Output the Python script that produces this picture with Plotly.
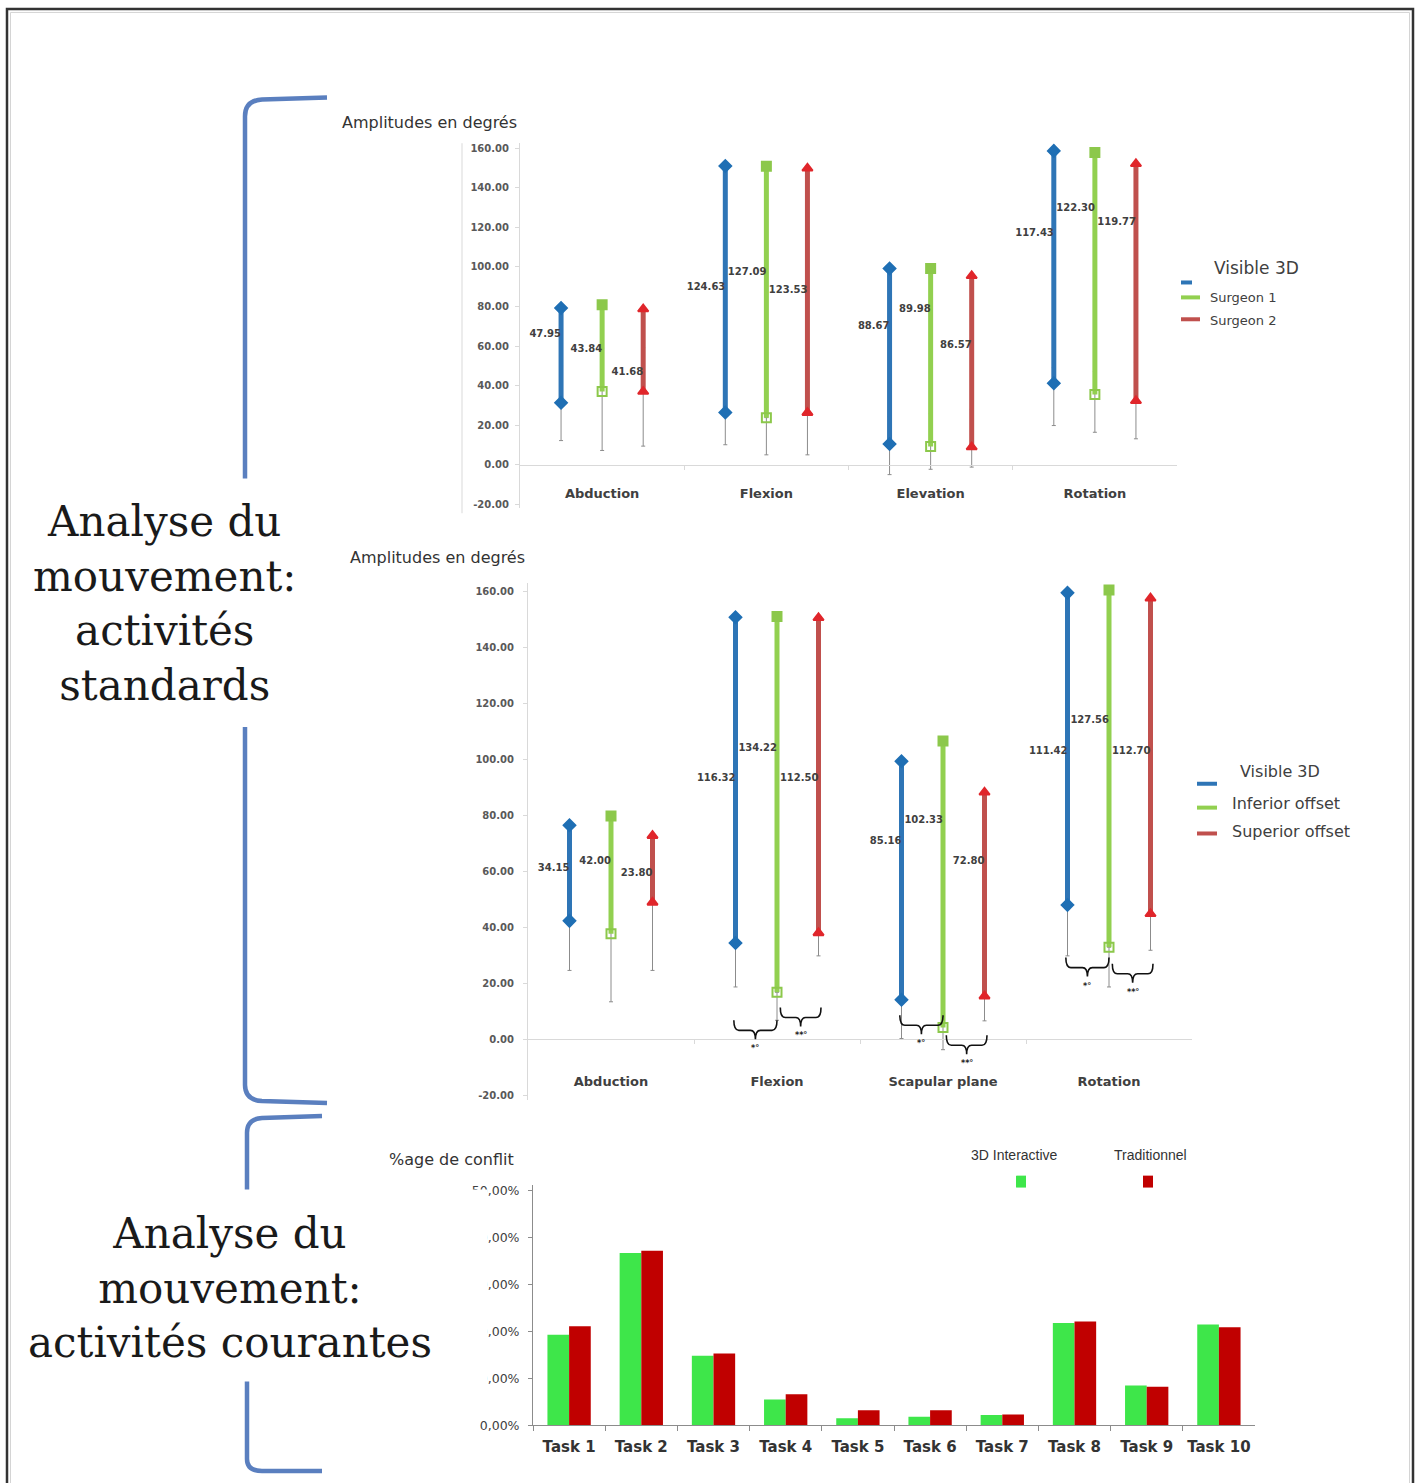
import plotly.graph_objects as go

W, H = 1419, 1483


def pxx(x):
    return x / W


def pyy(y):
    return 1 - y / H


# ---------------- data: panel 1 (Visible 3D vs surgeons) ----------------
MOVES_1 = ["Abduction", "Flexion", "Elevation", "Rotation"]
SERIES_1 = ["Visible 3D", "Surgeon 1", "Surgeon 2"]
LOW_1 = {
    "Visible 3D": [31.3, 26.4, 10.5, 41.2],
    "Surgeon 1": [37.0, 23.8, 9.2, 35.5],
    "Surgeon 2": [37.0, 26.3, 8.9, 32.3],
}
AMP_1 = {
    "Visible 3D": [47.95, 124.63, 88.67, 117.43],
    "Surgeon 1": [43.84, 127.09, 89.98, 122.30],
    "Surgeon 2": [41.68, 123.53, 86.57, 119.77],
}
WLO_1 = {
    "Visible 3D": [12.2, 10.1, -5.0, 19.8],
    "Surgeon 1": [7.2, 5.0, -2.3, 16.4],
    "Surgeon 2": [9.4, 5.0, -1.2, 13.1],
}
WHI_1 = {
    "Visible 3D": [97.8, None, 112.9, 166.5],
    "Surgeon 1": [102.8, None, 115.7, 169.4],
    "Surgeon 2": [100.8, None, 114.6, 171.6],
}

# ---------------- data: panel 2 (Visible 3D vs offsets) ----------------
MOVES_2 = ["Abduction", "Flexion", "Scapular plane", "Rotation"]
SERIES_2 = ["Visible 3D", "Inferior offset", "Superior offset"]
LOW_2 = {
    "Visible 3D": [42.3, 34.4, 14.1, 48.0],
    "Inferior offset": [37.7, 16.8, 4.2, 32.9],
    "Superior offset": [48.9, 38.0, 15.4, 44.8],
}
AMP_2 = {
    "Visible 3D": [34.15, 116.32, 85.16, 111.42],
    "Inferior offset": [42.00, 134.22, 102.33, 127.56],
    "Superior offset": [23.80, 112.50, 72.80, 112.70],
}
WLO_2 = {
    "Visible 3D": [24.6, 18.7, 0.3, 29.8],
    "Inferior offset": [13.4, 6.8, -3.7, 18.7],
    "Superior offset": [24.6, 29.8, 6.6, 31.8],
}
WHI_2 = {
    "Visible 3D": [96.9, None, 113.3, 165.5],
    "Inferior offset": [97.8, None, 121.2, None],
    "Superior offset": [93.0, None, 104.8, 166.2],
}
# significance braces: (movement index, left series, right series, mark)
SIGNIF_2 = [
    (1, 0, 1, "*°"),
    (1, 1, 2, "**°"),
    (2, 0, 1, "*°"),
    (2, 1, 2, "**°"),
    (3, 0, 1, "*°"),
    (3, 1, 2, "**°"),
]

# ---------------- data: panel 3 (conflict rate per task) ----------------
TASKS = ["Task 1", "Task 2", "Task 3", "Task 4", "Task 5",
         "Task 6", "Task 7", "Task 8", "Task 9", "Task 10"]
CONFLICT_3D = [19.3, 36.7, 14.8, 5.5, 1.5, 1.8, 2.2, 21.8, 8.5, 21.5]
CONFLICT_TRAD = [21.1, 37.2, 15.3, 6.6, 3.2, 3.2, 2.3, 22.1, 8.2, 20.9]
PCT_TICKS = [0, 10, 20, 30, 40, 50]
DEG_TICKS = [-20, 0, 20, 40, 60, 80, 100, 120, 140, 160]

# ---------------- styling / placement ----------------
OFFSETS = [-0.25, 0.0, 0.25]
LINE_COLORS = ["#2e75b6", "#92d050", "#c0504d"]
MARK_COLORS = ["#1f6fb4", "#8cc84b", "#e0262b"]
SYMBOLS = [("diamond", "diamond"), ("square", "square-open"),
           ("triangle-up", "triangle-up")]
# vertical placement (value units) of the amplitude labels
LABEL_Y_1 = [[66, 89.7, 70.1, 117], [58.4, 97.3, 78.5, 129.7],
             [46.8, 88, 60.4, 122.4]]
LABEL_Y_2 = [[61, 93.3, 70.6, 102.8], [63.6, 103.9, 78.1, 114],
             [59.2, 93.3, 63.4, 102.8]]
BRACE_BASE_2 = [3.2, 7.8, 5.0, -2.1, 25.6, 23.4]

AXIS_GREY = "#d9d9d9"
TICK_FONT = dict(family="DejaVu Sans", size=10, color="#595959", weight="bold")
CAT_FONT = dict(family="DejaVu Sans", size=13, color="#404040", weight="bold")
LABEL_FONT = dict(family="DejaVu Sans", size=10, color="#404040", weight="bold")

fig = go.Figure()


def add_range_panel(series, low, amp, wlo, whi, label_y, xa, ya):
    for si, name in enumerate(series):
        xs = [c + OFFSETS[si] for c in range(len(low[name]))]
        highs = [lo + a for lo, a in zip(low[name], amp[name])]
        up = [(w - h) if w is not None else 0 for w, h in zip(whi[name], highs)]
        dn = [(lo - w) if w is not None else 0 for w, lo in zip(wlo[name], low[name])]
        # min/max whiskers
        fig.add_trace(go.Scatter(
            x=xs, y=low[name], mode="markers",
            marker=dict(size=1, color="rgba(0,0,0,0)"),
            error_y=dict(type="data", symmetric=False, array=up, arrayminus=dn,
                         color="#8c8c8c", thickness=1, width=2),
            xaxis=xa, yaxis=ya, hoverinfo="skip", showlegend=False))
        # low-high range
        lx, ly, sym = [], [], []
        for x, h, lo in zip(xs, highs, low[name]):
            lx += [x, x, None]
            ly += [h, lo, None]
            sym += [SYMBOLS[si][0], SYMBOLS[si][1], SYMBOLS[si][0]]
        fig.add_trace(go.Scatter(
            x=lx, y=ly, mode="lines+markers", name=name,
            line=dict(color=LINE_COLORS[si], width=5),
            marker=dict(symbol=sym, size=9, color=MARK_COLORS[si],
                        line=dict(color=MARK_COLORS[si], width=2)),
            xaxis=xa, yaxis=ya, showlegend=False))
        # amplitude labels
        fig.add_trace(go.Scatter(
            x=xs, y=label_y[si], mode="text",
            text=[f"{a:.2f}" for a in amp[name]],
            textposition="middle left", textfont=LABEL_FONT,
            xaxis=xa, yaxis=ya, hoverinfo="skip", showlegend=False))


add_range_panel(SERIES_1, LOW_1, AMP_1, WLO_1, WHI_1, LABEL_Y_1, "x", "y")
add_range_panel(SERIES_2, LOW_2, AMP_2, WLO_2, WHI_2, LABEL_Y_2, "x2", "y2")

# bar panel
fig.add_trace(go.Bar(x=TASKS, y=CONFLICT_3D, name="3D Interactive",
                     marker=dict(color="#3ee64a", line=dict(width=0)),
                     xaxis="x3", yaxis="y3", showlegend=False))
fig.add_trace(go.Bar(x=TASKS, y=CONFLICT_TRAD, name="Traditionnel",
                     marker=dict(color="#c00000", line=dict(width=0)),
                     xaxis="x3", yaxis="y3", showlegend=False))


def zero_pos(dom, rng):
    return dom[0] + (0 - rng[0]) / (rng[1] - rng[0]) * (dom[1] - dom[0])


Y1_DOM, Y1_RNG = [pyy(510), pyy(143)], [-22, 162.5]
Y2_DOM, Y2_RNG = [pyy(1104.5), pyy(585)], [-21.5, 163]
Y3_DOM, Y3_RNG = [pyy(1432), pyy(1190)], [0, 51.3]


def cat_axis(dom, cats, ypos, standoff):
    return dict(
        domain=dom, range=[-0.5, len(cats) - 0.5], anchor="free", position=ypos,
        tickmode="array", tickvals=list(range(len(cats))), ticktext=cats,
        ticks="", tickfont=CAT_FONT, ticklabelstandoff=standoff,
        showline=True, linecolor=AXIS_GREY, linewidth=1,
        showgrid=False, zeroline=False,
        minor=dict(tickmode="array", tickvals=[i + 0.5 for i in range(len(cats) - 1)],
                   ticks="outside", ticklen=4, tickcolor=AXIS_GREY),
    )


def value_axis(dom, rng, anchor, standoff):
    return dict(
        domain=dom, range=rng, anchor=anchor,
        tickmode="array", tickvals=DEG_TICKS,
        ticktext=[f"{v:.2f}" for v in DEG_TICKS],
        ticks="outside", ticklen=4, tickcolor=AXIS_GREY, tickfont=TICK_FONT,
        ticklabelstandoff=standoff,
        showline=True, linecolor=AXIS_GREY, linewidth=1,
        showgrid=False, zeroline=False,
    )


shapes = []
annotations = []

# significance braces on panel 2
for (ci, a, b, mark), base in zip(SIGNIF_2, BRACE_BASE_2):
    xl = ci + OFFSETS[a] + (0.02 if a == 1 else -0.01)
    xr = ci + OFFSETS[b] + (0.015 if b == 2 else 0.0)
    xm = (xl + xr) / 2
    r, h1, h2 = 0.03, 3.6, 3.2
    path = (f"M {xl},{base + h1} Q {xl},{base} {xl + r},{base} "
            f"L {xm - r},{base} Q {xm},{base} {xm},{base - h2} "
            f"Q {xm},{base} {xm + r},{base} L {xr - r},{base} "
            f"Q {xr},{base} {xr},{base + h1}")
    shapes.append(dict(type="path", path=path, xref="x2", yref="y2",
                       line=dict(color="#111111", width=1.6)))
    annotations.append(dict(x=xm, y=base - h2 - 3.4, xref="x2", yref="y2",
                            text=mark, showarrow=False,
                            font=dict(family="DejaVu Sans", size=8, color="#222222",
                                      weight="bold")))

# outer frame
shapes.append(dict(type="rect", xref="paper", yref="paper",
                   x0=pxx(7), x1=pxx(1413), y0=pyy(1500), y1=pyy(8),
                   line=dict(color="#333333", width=2.5)))
shapes.append(dict(type="rect", xref="paper", yref="paper",
                   x0=pxx(10.5), x1=pxx(1409.5), y0=pyy(1500), y1=pyy(11.5),
                   line=dict(color="#d4d4d4", width=1)))

# grouping brackets on the left
BRACKET = dict(color="#5a7fbf", width=4.5)


def bracket_path(cmds):
    out = []
    for c in cmds:
        if isinstance(c, str):
            out.append(c)
        else:
            out.append(f"{pxx(c[0])},{pyy(c[1])}")
    return " ".join(out)


shapes += [
    dict(type="path", xref="paper", yref="paper", line=BRACKET,
         path=bracket_path(["M", (327, 97), "L", (262, 99), "Q", (245, 100), (245, 116),
                            "L", (245, 480)])),
    dict(type="path", xref="paper", yref="paper", line=BRACKET,
         path=bracket_path(["M", (245, 730), "L", (245, 1090), "Q", (245, 1105),
                            (262, 1106), "L", (327, 1108)])),
    dict(type="path", xref="paper", yref="paper", line=BRACKET,
         path=bracket_path(["M", (322, 1121), "L", (262, 1123), "Q", (247, 1124),
                            (247, 1138), "L", (247, 1195)])),
    dict(type="path", xref="paper", yref="paper", line=BRACKET,
         path=bracket_path(["M", (247, 1388), "L", (247, 1466), "Q", (247, 1478),
                            (262, 1478), "L", (322, 1478)])),
]

# extra frame line left of panel 1 axis
shapes.append(dict(type="line", xref="paper", yref="paper",
                   x0=pxx(462), x1=pxx(462), y0=pyy(515), y1=pyy(143),
                   line=dict(color=AXIS_GREY, width=1)))

# panel 3 tick labels partly hidden by the text box
shapes.append(dict(type="rect", xref="paper", yref="paper", layer="above",
                   x0=pxx(440), x1=pxx(487.5), y0=pyy(1418), y1=pyy(1195),
                   fillcolor="white", line=dict(width=0)))

# legends for panels 1 and 2
LEG1 = [(SERIES_1[0], 283, 268, 17, 1212, (1181, 1192)),
        (SERIES_1[1], 298, 298, 13, 1208, (1181, 1200)),
        (SERIES_1[2], 320, 321, 13, 1208, (1181, 1200))]
for si, (name, ly, ty, fs, tx, (lx0, lx1)) in enumerate(LEG1):
    shapes.append(dict(type="line", xref="paper", yref="paper",
                       x0=pxx(lx0), x1=pxx(lx1), y0=pyy(ly), y1=pyy(ly),
                       line=dict(color=LINE_COLORS[si], width=4)))
    annotations.append(dict(x=pxx(tx), y=pyy(ty), xref="paper", yref="paper",
                            xanchor="left", yanchor="middle", showarrow=False,
                            text=name, font=dict(family="DejaVu Sans", size=fs,
                                                 color="#404040")))

LEG2 = [(SERIES_2[0], 787, 775, 1238), (SERIES_2[1], 811, 807, 1230),
        (SERIES_2[2], 837, 835, 1230)]
for si, (name, ly, ty, tx) in enumerate(LEG2):
    shapes.append(dict(type="line", xref="paper", yref="paper",
                       x0=pxx(1197), x1=pxx(1217), y0=pyy(ly), y1=pyy(ly),
                       line=dict(color=LINE_COLORS[si], width=4)))
    annotations.append(dict(x=pxx(tx), y=pyy(ty), xref="paper", yref="paper",
                            xanchor="left", yanchor="middle", showarrow=False,
                            text=name, font=dict(family="DejaVu Sans", size=16,
                                                 color="#404040")))

# legend for panel 3
for name, tx, sx, col in [("3D Interactive", 1014, 1021, "#3ee64a"),
                          ("Traditionnel", 1150, 1148, "#c00000")]:
    annotations.append(dict(x=pxx(tx), y=pyy(1160), xref="paper", yref="paper",
                            xanchor="center", yanchor="middle", showarrow=False,
                            text=name, font=dict(family="Liberation Sans", size=14,
                                                 color="#333333")))
    shapes.append(dict(type="rect", xref="paper", yref="paper",
                       x0=pxx(sx - 5), x1=pxx(sx + 5), y0=pyy(1193), y1=pyy(1181),
                       fillcolor=col, line=dict(width=0)))

# axis titles
for text, x, y in [("Amplitudes en degrés", 340, 122),
                   ("Amplitudes en degrés", 348, 560),
                   ("%age de conflit", 387, 1165)]:
    annotations.append(dict(x=pxx(x), y=pyy(y), xref="paper", yref="paper",
                            xanchor="left", yanchor="middle", showarrow=False,
                            text=text, font=dict(family="DejaVu Sans", size=16,
                                                 color="#333333")))

# section headings
SERIF = dict(family="DejaVu Serif", size=42, color="#1a1a1a")
annotations.append(dict(x=pxx(165), y=pyy(606), xref="paper", yref="paper",
                        xanchor="center", yanchor="middle", showarrow=False,
                        text="Analyse du<br>mouvement:<br>activités<br>standards",
                        font=SERIF))
annotations.append(dict(x=pxx(230), y=pyy(1294), xref="paper", yref="paper",
                        xanchor="center", yanchor="middle", showarrow=False,
                        text="Analyse du<br>mouvement:<br>activités courantes",
                        font=SERIF))

fig.update_layout(
    width=W, height=H, margin=dict(l=0, r=0, t=0, b=0),
    paper_bgcolor="white", plot_bgcolor="white", showlegend=False,
    barmode="group", bargap=0.40, bargroupgap=0.0,
    xaxis=cat_axis([pxx(520), pxx(1177)], MOVES_1, zero_pos(Y1_DOM, Y1_RNG), 17),
    yaxis=value_axis(Y1_DOM, Y1_RNG, "x", 4),
    xaxis2=cat_axis([pxx(528), pxx(1192)], MOVES_2, zero_pos(Y2_DOM, Y2_RNG), 30),
    yaxis2=value_axis(Y2_DOM, Y2_RNG, "x2", 7),
    xaxis3=dict(domain=[pxx(533), pxx(1255)], anchor="y3", type="category",
                showline=True, linecolor="#8c8c8c", linewidth=1,
                ticks="outside", tickson="boundaries", ticklen=5, tickcolor="#8c8c8c",
                ticklabelstandoff=8,
                tickfont=dict(family="DejaVu Sans", size=15, color="#333333",
                              weight="bold"),
                showgrid=False, zeroline=False),
    yaxis3=dict(domain=Y3_DOM, range=Y3_RNG, anchor="x3",
                tickmode="array", tickvals=PCT_TICKS,
                ticktext=[f"{v:.2f}".replace(".", ",") + "%" for v in PCT_TICKS],
                ticks="outside", ticklen=4, tickcolor="#8c8c8c",
                ticklabelstandoff=6,
                tickfont=dict(family="DejaVu Sans", size=12.5, color="#404040"),
                showline=True, linecolor="#8c8c8c", linewidth=1,
                showgrid=False, zeroline=False),
    shapes=shapes, annotations=annotations,
)

fig.write_html("out.html")
